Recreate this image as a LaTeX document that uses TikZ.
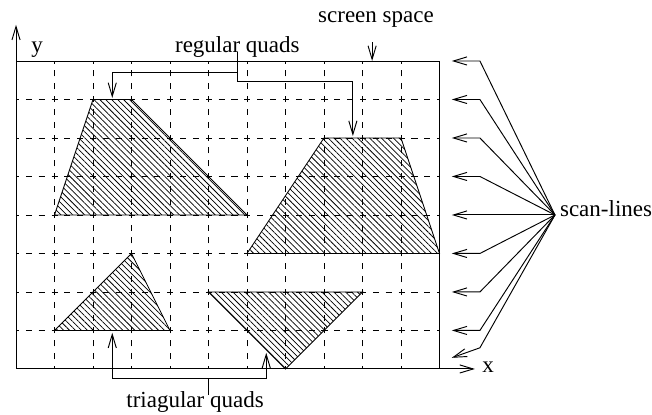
\documentclass[tikz,border=0pt]{standalone}
\usepackage{fontspec}
\setmainfont{Liberation Serif}
\usetikzlibrary{patterns.meta,arrows.meta}

\tikzset{
  gridline/.style={line width=0.6pt,dash pattern=on 4.5pt off 5pt,dash phase=2.25pt},
  quad/.style={draw,line width=0.6pt,pattern={Lines[angle=-45,distance=3.1pt,line width=0.55pt]}},
  lbl/.style={anchor=base,inner sep=0pt}
}

\begin{document}
\begin{tikzpicture}[font=\fontsize{17}{20}\selectfont,line width=0.7pt,
    >={Straight Barb[length=10pt,width=6pt]}]
        \useasboundingbox (-0.416,-1.195) rectangle (16.52,9.584);

        % dashed raster
        \foreach \i in {1,...,10}
            \draw[gridline] (\i,0) -- (\i,8);
        \foreach \j in {1,...,7}
            \draw[gridline] (0,\j) -- (11,\j);

        % the four quads
        \draw[quad] (1,4) -- (2,7) -- (3,7) -- (6,4) -- cycle;
        \draw[quad] (6,3) -- (8,6) -- (10,6) -- (11,3) -- cycle;
        \draw[quad] (1,1) -- (3,3) -- (4,1) -- cycle;
        \draw[quad] (5,2) -- (9,2) -- (7,0) -- cycle;

        % screen frame and axes
        \coordinate (O) at (0,0);
        \coordinate (ytip) at (0,8.94);
        \coordinate (xtip) at (11.92,0);
        \draw (0,8) -- (11,8) -- (11,0);
        \draw[->] (O) -- (ytip);
        \draw[->] (O) -- (xtip);
        \node[lbl] (ylbl) at (0.55,8.23) {y};
        \node[lbl] (xlbl) at (12.26,-0.08) {x};

        % screen space
        \node[lbl] (scr) at (9.35,9.01) {screen space};
        \coordinate (scrA) at (9.25,8.49);
        \coordinate (scrB) at (9.25,8.0);
        \draw[->] (scrA) -- (scrB);

        % regular quads
        \node[lbl] (regq) at (5.75,8.23) {regular quads};
        \coordinate (rqA) at (5.74,7.71);
        \coordinate (rqB) at (5.74,7.48);
        \coordinate (quadAtop) at (2.5,7.04);
        \coordinate (quadBtop) at (8.75,6.05);
        \draw[->] (5.74,8.23) -- (rqA) -| (quadAtop);
        \draw[->] (rqA) -- (rqB) -| (quadBtop);

        % triagular quads
        \node[lbl] (triq) at (4.65,-0.99) {triagular quads};
        \coordinate (tqstem) at (5.0,-0.68);
        \coordinate (tqbar) at (5.0,-0.26);
        \coordinate (triAbase) at (2.5,0.94);
        \coordinate (triBedge) at (6.5,0.42);
        \draw[->] (tqstem) -- (tqbar) -| (triAbase);
        \draw[->] (tqbar) -| (triBedge);

        % scan-lines
        \coordinate (fan) at (14.0,4);
        \node[anchor=base west,inner sep=0pt] (scan) at (14.12,3.95) {scan-lines};
        \foreach \j in {1,...,8} {
            \coordinate (bend\j) at (12.05,\j);
            \coordinate (tip\j) at (11.32,\j);
            \draw[->] (fan) -- (bend\j) -- (tip\j);
        }
        \coordinate (bend0) at (12.05,0.55);
        \coordinate (tip0) at (11.32,0.29);
        \draw[->] (fan) -- (bend0) -- (tip0);
\end{tikzpicture}
\end{document}
